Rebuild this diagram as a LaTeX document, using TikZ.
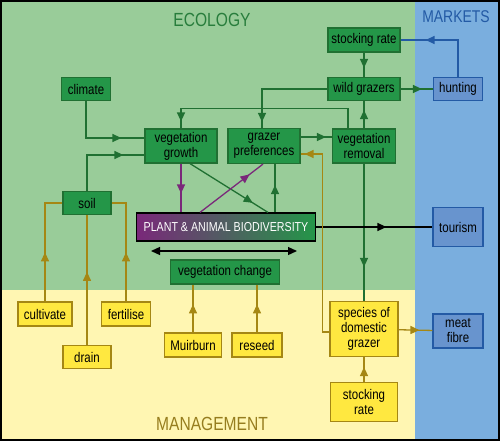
\documentclass[tikz,border=0pt]{standalone}
\usepackage{fontspec}
\setmainfont{Liberation Sans}[FakeStretch=0.82]
\usetikzlibrary{arrows.meta,decorations.markings}

\definecolor{bggreen}{RGB}{153,204,153}
\definecolor{bgyellow}{RGB}{255,246,178}
\definecolor{bgblue}{RGB}{122,174,222}
\definecolor{gnode}{RGB}{36,150,72}
\definecolor{gdark}{RGB}{32,112,50}
\definecolor{ynode}{RGB}{255,232,64}
\definecolor{ydark}{RGB}{165,135,20}
\definecolor{bnode}{RGB}{104,148,206}
\definecolor{bdark}{RGB}{35,90,165}
\definecolor{purp}{RGB}{122,40,122}

\newcommand\arlen{9pt}

\begin{document}
\begin{tikzpicture}[
			x=1pt, y=-1pt,
			box/.style={draw, line width=1.2pt, minimum height=23pt, inner sep=1pt, align=center,
				font=\fontsize{14}{15}\selectfont},
			gbox/.style={box, fill=gnode, draw=gdark},
			ybox/.style={box, fill=ynode, draw=ydark},
			mbox/.style={box, fill=bnode, draw=bdark},
			con/.style={line width=1.3pt},
			arr/.style={postaction={decorate}, decoration={markings,
				mark=at position #1 with {\arrow{Triangle[length=\arlen,width=8pt]}}}},
			head/.style={font=\fontsize{19}{20}\selectfont}
		]
		% regions
		\useasboundingbox (0,0) rectangle (500,441);
		\fill[bggreen] (0,0) rectangle (415,290);
		\fill[bgyellow] (0,290) rectangle (415,441);
		\fill[bgblue] (415,0) rectangle (500,441);
		\draw[line width=2pt] (1,1) rectangle (499,440);

		\node [head, text={rgb,255:red,40;green,125;blue,60}] (eco) at (212,20) {ECOLOGY};
		\node [head, font=\fontsize{17}{18}\selectfont, text=bdark] (mkt) at (456,17) {MARKETS};
		\node [head, text={rgb,255:red,150;green,125;blue,30}] (mgt) at (212,424) {MANAGEMENT};

		% ecology
		\node [gbox, minimum width=49pt] (clim) at (86,89) {climate};
		\node [gbox, minimum width=72pt, minimum height=34pt] (vgr) at (181,146) {vegetation\\growth};
		\node [gbox, minimum width=72pt, minimum height=35pt] (gpr) at (264,146) {grazer\\preferences};
		\node [gbox, minimum width=63pt, minimum height=34pt] (vrem) at (364,146) {vegetation\\removal};
		\node [gbox, minimum width=72pt, minimum height=24pt] (stk) at (364,40) {stocking rate};
		\node [gbox, minimum width=72pt] (wgr) at (364,89) {wild grazers};
		\node [gbox, minimum width=48pt] (soil) at (87,203) {soil};
		\node [box, draw=black, left color=purp, right color=gnode, text=white,
			font=\fontsize{13}{14}\selectfont,
			minimum width=179pt, minimum height=28pt] (bio) at (226,227) {PLANT \& ANIMAL BIODIVERSITY};
		\node [gbox, minimum width=109pt, minimum height=24pt] (vch) at (225,272) {vegetation change};

		% markets
		\node [mbox, minimum width=49pt] (hunt) at (458,89) {hunting};
		\node [mbox, minimum width=50pt, minimum height=39pt] (tour) at (458,227) {tourism};
		\node [mbox, minimum width=50pt, minimum height=34pt] (meat) at (458,331) {meat\\fibre};

		% management
		\node [ybox, minimum width=54pt, minimum height=24pt] (cult) at (45,314) {cultivate};
		\node [ybox, minimum width=49pt, minimum height=24pt] (fert) at (126,314) {fertilise};
		\node [ybox, minimum width=48pt] (drn) at (87,357) {drain};
		\node [ybox, minimum width=57pt, minimum height=24pt] (muir) at (193,345) {Muirburn};
		\node [ybox, minimum width=50pt, minimum height=24pt] (resd) at (257,345) {reseed};
		\node [ybox, minimum width=68pt, minimum height=55pt] (spec) at (364,329) {species of\\domestic\\grazer};
		\node [ybox, minimum width=67pt, minimum height=39pt] (stk2) at (364,402) {stocking\\rate};

		\coordinate (da1) at (151,251);
		\coordinate (da2) at (297,251);

		\draw[con, gdark, arr=-23pt] (clim) |- ([yshift=8pt]vgr.west);
		\draw[con, gdark, arr=-21pt] (soil) |- ([yshift=-9pt]vgr.west);
		\draw[con, gdark, arr=-9pt] (stk)--(wgr);
		\draw[con, bdark, arr=-25pt] (hunt) |- (stk);
		\draw[con, gdark, arr=-11pt] (wgr)--(hunt);
		\draw[con, gdark, arr=-6pt] (wgr) -| ([xshift=-2pt]gpr.north);
		\draw[con, gdark, arr=-7pt] ([xshift=-16pt]vrem.north) -- ++(0,-20) -| (vgr);
		\draw[con, gdark, arr=-9pt] (vrem)--(wgr);
		\draw[con, gdark, arr=-6pt] ([yshift=9pt]gpr.east)--([yshift=9pt]vrem.west);
		\draw[con, gdark, arr=-34pt] (vrem)--(spec);
		\draw[con, purp, arr=-19pt] (vgr)--(vgr |- bio.north);
		\draw[con, gdark, arr=-18pt] ([xshift=9pt]vgr.south)--([xshift=42pt]bio.north);
		\draw[con, purp, arr=-17pt] ([xshift=-26pt]bio.north)--([xshift=-1pt]gpr.south);
		\draw[con, gdark, arr=-21pt] ([xshift=49pt]bio.north)--([xshift=11pt]gpr.south);
		\draw[con, black, arr=-46pt] (bio)--(tour);
		\draw[con, black, {Triangle[length=\arlen,width=8pt]}-{Triangle[length=\arlen,width=8pt]}] (da1)--(da2);

		\draw[con, ydark, arr=49pt] (cult) |- (soil);
		\draw[con, ydark, arr=49pt] (fert) |- (soil);
		\draw[con, ydark, arr=73pt] (drn)--(soil);
		\draw[con, ydark, arr=28pt] (muir)--(muir |- vch.south);
		\draw[con, ydark, arr=28pt] (resd)--(resd |- vch.south);
		\draw[con, ydark, arr=-4pt] ([yshift=-3pt]spec.west) -- ++(-7,0) |- ([yshift=-8pt]gpr.east);
		\draw[con, ydark, arr=-13pt] (spec)--(meat);
		\draw[con, ydark, arr=-10pt] (stk2)--(spec);
	\end{tikzpicture}
\end{document}
